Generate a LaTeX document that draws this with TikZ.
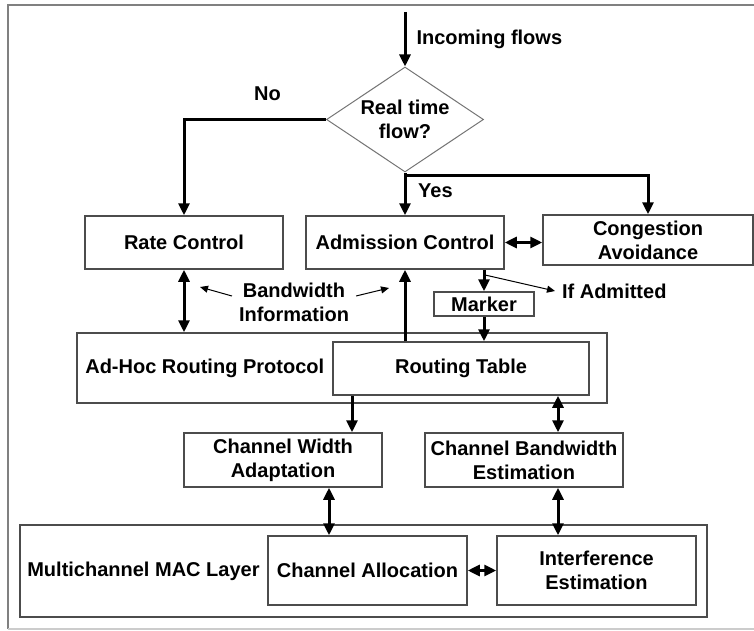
\documentclass[tikz,border=0pt]{standalone}
\usepackage{fontspec}
\setmainfont{Liberation Sans}
\usetikzlibrary{arrows.meta,shapes.geometric,calc}

\begin{document}
\begin{tikzpicture}[x=0.5pt,y=-0.5pt,every node/.style={font=\bfseries},
  box/.style={draw=black!70,line width=0.75pt,fill=white,align=center,inner sep=0pt},
  flow/.style={line width=1.5pt,-{Triangle[length=6pt,width=5.5pt]}},
  twoway/.style={line width=1.5pt,{Triangle[length=6pt,width=5.5pt]}-{Triangle[length=6pt,width=5.5pt]}},
  hint/.style={line width=0.5pt,-{Triangle[length=4pt,width=3.5pt]}}]
\useasboundingbox (0,0) rectangle (754,631);
% Outer frame.
\draw[black!50,line width=1pt] (754,5) -- (8,5) -- (8,629);
\draw[black!20,line width=0.75pt] (8,629) -- (754,629);
% Decision and the control blocks.
\node[draw=black!55,line width=0.5pt,shape=diamond,aspect=1.5,inner sep=0pt,
  minimum width=78.5pt,minimum height=52.5pt,align=center] (dec) at (405,119.5) {Real time\\flow?};
\node[box,minimum width=99pt,minimum height=26.5pt] (rate) at (184,242.5) {Rate Control};
\node[box,minimum width=99pt,minimum height=26.5pt] (adm) at (405,242.5) {Admission Control};
\node[box,minimum width=105pt,minimum height=25pt] (cong) at (648,240) {Congestion\\Avoidance};
\node[box,minimum width=50pt,minimum height=12pt] (marker) at (484,304) {Marker};
\node[anchor=west] (ifadm) at (555,291) {If Admitted};
\node[align=center] (bwinfo) at (294,302) {Bandwidth\\Information};
% Routing layer.
\node[box,minimum width=265pt,minimum height=35pt] (adhoc) at (342,368) {};
\node[anchor=west] (adhoc-lbl) at ([xshift=1pt]adhoc.west) {Ad-Hoc Routing Protocol};
\node[box,minimum width=128pt,minimum height=26.5pt] (rtab) at (461,368.5) {Routing Table};
\node[box,minimum width=99pt,minimum height=27pt] (cwa) at (283,460) {Channel Width\\Adaptation};
\node[box,minimum width=99pt,minimum height=27pt] (cbe) at (524,460) {Channel Bandwidth\\Estimation};
% MAC layer.
\node[box,minimum width=343.5pt,minimum height=46pt] (mac) at (363.5,571) {};
\node[anchor=west] (mac-lbl) at ([xshift=0.5pt]mac.west) {Multichannel MAC Layer};
\node[box,minimum width=99.5pt,minimum height=34.5pt] (calloc) at (367.5,570.5) {Channel Allocation};
\node[box,minimum width=99.5pt,minimum height=34.5pt] (interf) at (596.5,570.5) {Interference\\Estimation};
% Flows out of the decision.
\coordinate (src) at (405,12);
\coordinate (fork) at (405,175);
\draw[flow] (src) -- (dec.north) node[midway,right=1.7pt] {Incoming flows};
\draw[flow] (dec.west) -| (rate.north) node[pos=0.206,above=5.5pt] {No};
\draw[flow] (dec.south) -- (adm.north) node[pos=0.43,right=2.5pt] {Yes};
\draw[flow] (fork) -| (cong.north);
\draw[twoway] (adm.east) -- (adm.east -| cong.west);
% Between control and routing.
\draw[twoway] (rate.south) -- (rate.south |- adhoc.north);
\draw[flow] (adm.south |- rtab.north) -- (adm.south);
\draw[flow] (marker.north |- adm.south) -- (marker.north);
\draw[flow] (marker.south) -- (marker.south |- rtab.north);
\draw[hint] ($(marker.north |- adm.south)+(0,5)$) -- (ifadm.west);
\coordinate (bw-rate) at (200,287);
\coordinate (bw-adm) at (389,288);
\draw[hint] ([yshift=3pt]bwinfo.west) -- (bw-rate);
\draw[hint] ([yshift=3pt]bwinfo.east) -- (bw-adm);
% Down to the channel blocks and the MAC layer.
\draw[flow] ($(rtab.south)+(-109,0)$) coordinate (rt-cw) -- (rt-cw |- cwa.north);
\draw[twoway] ($(rtab.south)+(97,0)$) coordinate (rt-cb) -- (rt-cb |- cbe.north);
\draw[twoway] ($(cwa.south)+(46,0)$) coordinate (cw-ca) -- (cw-ca |- calloc.north);
\draw[twoway] (rt-cb |- cbe.south) -- (rt-cb |- interf.north);
\draw[twoway] (calloc.east) -- (interf.west);
\end{tikzpicture}
\end{document}
